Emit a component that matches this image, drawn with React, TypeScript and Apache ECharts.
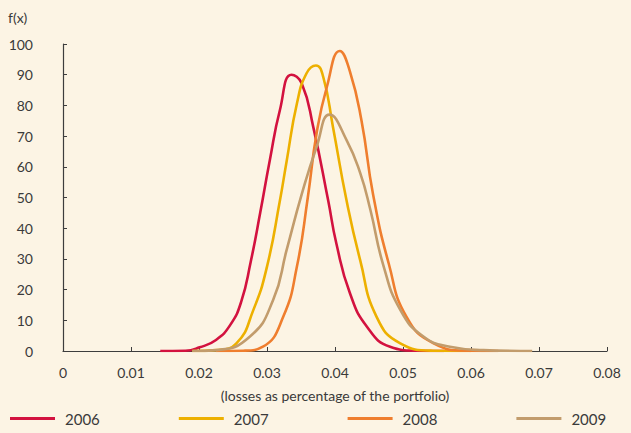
import React, { useEffect, useRef } from "react";
import * as echarts from "echarts";

const seriesNames = ["2006", "2007", "2008", "2009"];
const colors = ["#D3123F", "#EDB000", "#EF7E2E", "#C29C6C"];

const s2006: [number, number][] = [
  [0.0143, 0], [0.018, 0.1], [0.0201, 1.2], [0.0225, 3.6], [0.0246, 8.5], [0.0262, 16],
  [0.0276, 29], [0.029, 45], [0.0304, 62], [0.0319, 78.5], [0.0336, 90],
  [0.0351, 87.2], [0.0368, 73], [0.039, 49], [0.0402, 35], [0.0422, 18.8],
  [0.0447, 7.9], [0.0481, 1.4], [0.052, 0.1], [0.056, 0],
];
const s2007: [number, number][] = [
  [0.019, 0], [0.0226, 0.3], [0.0255, 2.5], [0.028, 13.4], [0.03, 27.5], [0.0319, 49],
  [0.0329, 62], [0.0344, 80.6], [0.0358, 90.4], [0.0372, 93], [0.0383, 89],
  [0.0397, 73], [0.0417, 49], [0.0437, 29.6], [0.0461, 11.2], [0.0496, 2.5],
  [0.0544, 0.1], [0.06, 0],
];
const s2008: [number, number][] = [
  [0.0225, 0], [0.0265, 0.1], [0.0294, 1.4], [0.0324, 11.2], [0.0344, 27.5], [0.036, 50],
  [0.0373, 71], [0.0388, 86], [0.0407, 97.7], [0.0422, 91], [0.0439, 75],
  [0.0456, 51], [0.0479, 28.5], [0.0505, 11.2], [0.0545, 2.5], [0.0594, 0.1], [0.064, 0],
];
const s2009: [number, number][] = [
  [0.019, 0], [0.0226, 0.3], [0.0275, 4.7], [0.0309, 16.6], [0.0329, 33], [0.0351, 51],
  [0.0373, 66.5], [0.0392, 77], [0.0417, 68.7], [0.0437, 58], [0.0452, 46],
  [0.0471, 28], [0.0496, 13.4], [0.053, 4.7], [0.0569, 1.4], [0.0618, 0.3], [0.069, 0],
];
const seriesData = [s2006, s2007, s2008, s2009];

const xTickLabels = ["0", "0.01", "0.02", "0.03", "0.04", "0.05", "0.06", "0.07", "0.08"];

const FONT = "Lato";
const TEXT = "#3a3a3a";
const AXIS = "#3d3d3d";

export default function App() {
  const ref = useRef<HTMLDivElement>(null);
  useEffect(() => {
    if (!ref.current) return;
    const chart = echarts.init(ref.current, undefined, { renderer: "svg" });
    chart.setOption({
      animation: false,
      backgroundColor: "#FCF4E4",
      textStyle: { fontFamily: FONT, color: TEXT },
      grid: { left: 63, right: 24, top: 44, bottom: 82, containLabel: false },
      legend: {
        bottom: 2,
        left: 5,
        itemWidth: 45,
        itemHeight: 3,
        itemGap: 79,
        icon: "rect",
        textStyle: { fontFamily: FONT, fontSize: 15, color: TEXT, padding: [0, 0, 0, 5] },
        data: seriesNames,
      },
      xAxis: {
        type: "value",
        min: 0,
        max: 0.08,
        interval: 0.01,
        name: "(losses as percentage of the portfolio)",
        nameLocation: "middle",
        nameGap: 37,
        nameTextStyle: { fontFamily: FONT, fontSize: 14, color: TEXT },
        axisLine: { lineStyle: { color: AXIS, width: 1.2 } },
        axisTick: { inside: true, length: 4, lineStyle: { color: AXIS } },
        axisLabel: {
          fontFamily: FONT,
          fontSize: 14,
          color: TEXT,
          margin: 14,
          formatter: (v: number) => xTickLabels[Math.round(v * 100)] ?? "",
        },
        splitLine: { show: false },
      },
      yAxis: {
        type: "value",
        min: 0,
        max: 100,
        interval: 10,
        name: "f(x)",
        nameLocation: "end",
        nameGap: 20,
        nameTextStyle: { fontFamily: FONT, fontSize: 14, color: TEXT, align: "left", padding: [0, 0, 0, -55] },
        axisLine: { show: true, lineStyle: { color: AXIS, width: 1.2 } },
        axisTick: { show: true, inside: true, length: 4, lineStyle: { color: AXIS } },
        axisLabel: { fontFamily: FONT, fontSize: 14, color: TEXT, margin: 30 },
        splitLine: { show: false },
      },
      series: seriesNames.map((name, i) => ({
        name,
        type: "line",
        data: seriesData[i],
        smooth: 0.5,
        showSymbol: false,
        symbol: "none",
        lineStyle: { color: colors[i], width: 2.6 },
        itemStyle: { color: colors[i] },
      })),
    });
    return () => chart.dispose();
  }, []);
  return <div ref={ref} style={{ width: 631, height: 433, position: "absolute", left: 0, top: 0 }} />;
}
